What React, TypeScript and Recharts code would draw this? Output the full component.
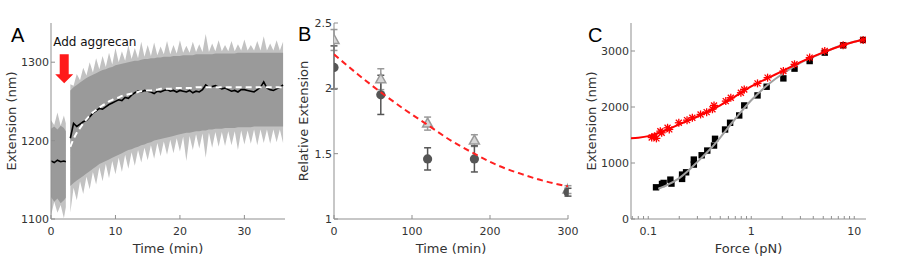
import React from 'react';
import { ComposedChart, XAxis, YAxis, Area, Line, Scatter, ErrorBar, ReferenceDot, Label } from 'recharts';

// ---------- Panel A data (time in min, extension in nm) ----------
const timeA = [
  0, 0.5, 1, 1.5, 2, 2.3, 2.65,
  3, 3.5, 4, 4.5, 5, 5.5, 6, 6.5, 7, 7.5,
  8, 8.5, 9, 9.5, 10, 10.5, 11, 11.5, 12, 12.5,
  13, 13.5, 14, 14.5, 15, 15.5, 16, 16.5, 17, 17.5,
  18, 18.5, 19, 19.5, 20, 20.5, 21, 21.5, 22, 22.5,
  23, 23.5, 24, 24.5, 25, 25.5, 26, 26.5, 27, 27.5,
  28, 28.5, 29, 29.5, 30, 30.5, 31, 31.5, 32, 32.5,
  33, 33.5, 34, 34.5, 35, 35.5, 36,
];
const spikeHiA = [
  1226, 1220, 1236, 1219, 1232, 1222, null,
  1272, 1270, 1285, 1277, 1293, 1283, 1300, 1287, 1305, 1291,
  1308, 1294, 1312, 1297, 1318, 1300, 1314, 1302, 1322, 1304,
  1318, 1305, 1326, 1307, 1322, 1308, 1325, 1309, 1320, 1310,
  1327, 1310, 1322, 1311, 1328, 1312, 1321, 1312, 1326, 1313,
  1323, 1313, 1336, 1313, 1324, 1314, 1328, 1314, 1322, 1314,
  1327, 1314, 1323, 1315, 1329, 1315, 1322, 1315, 1327, 1315,
  1333, 1315, 1324, 1315, 1328, 1315, 1326,
];
const coreHiA = [
  1215, 1218, 1214, 1219, 1216, 1212, null,
  1264, 1268, 1271, 1274, 1277, 1280, 1282, 1284, 1286, 1288,
  1290, 1291, 1293, 1294, 1296, 1297, 1298, 1299, 1300, 1301,
  1302, 1302, 1303, 1304, 1304, 1305, 1305, 1306, 1306, 1307,
  1307, 1307, 1308, 1308, 1308, 1309, 1309, 1309, 1309, 1310,
  1310, 1310, 1310, 1310, 1310, 1311, 1311, 1311, 1311, 1311,
  1311, 1311, 1312, 1312, 1312, 1312, 1312, 1312, 1312, 1312,
  1312, 1312, 1312, 1312, 1312, 1312, 1312,
];
const coreLoA = [
  1128, 1122, 1126, 1120, 1124, 1127, null,
  1142, 1146, 1149, 1152, 1155, 1158, 1161, 1164, 1167, 1170,
  1172, 1174, 1176, 1178, 1180, 1182, 1184, 1186, 1188, 1189,
  1191, 1192, 1194, 1195, 1197, 1198, 1200, 1201, 1202, 1203,
  1204, 1205, 1206, 1207, 1208, 1209, 1210, 1210, 1211, 1212,
  1212, 1213, 1213, 1214, 1214, 1215, 1215, 1215, 1216, 1216,
  1216, 1216, 1217, 1217, 1217, 1217, 1217, 1218, 1218, 1218,
  1218, 1218, 1218, 1218, 1218, 1218, 1218,
];
const spikeLoA = [
  1104, 1122, 1108, 1118, 1101, 1115, null,
  1108, 1140, 1124, 1148, 1132, 1154, 1138, 1160, 1144, 1166,
  1148, 1170, 1152, 1174, 1157, 1178, 1160, 1182, 1164, 1185,
  1168, 1188, 1172, 1191, 1175, 1194, 1177, 1197, 1180, 1199,
  1182, 1201, 1184, 1203, 1186, 1205, 1174, 1206, 1188, 1208,
  1190, 1209, 1178, 1210, 1191, 1211, 1192, 1211, 1193, 1212,
  1194, 1212, 1188, 1213, 1195, 1213, 1196, 1214, 1194, 1214,
  1197, 1214, 1196, 1214, 1198, 1214, 1197,
];
const smoothA = [
  1174, 1172, 1175, 1173, 1174, 1173, null,
  1203, 1222, 1218, 1221, 1224, 1226, 1230, 1235, 1238, 1241,
  1240, 1243, 1246, 1248, 1250, 1252, 1251, 1255, 1254, 1258,
  1261, 1263, 1262, 1264, 1263, 1262, 1260, 1263, 1262, 1264,
  1265, 1263, 1264, 1262, 1264, 1263, 1262, 1264, 1261, 1263,
  1262, 1265, 1271, 1268, 1269, 1270, 1268, 1266, 1267, 1265,
  1263, 1264, 1262, 1265, 1265, 1264, 1263, 1262, 1265, 1268,
  1275, 1267, 1265, 1264, 1266, 1268, 1271,
];
const fitA = [
  null, null, null, null, null, null, null,
  1192, 1202, 1210, 1216, 1222, 1227, 1232, 1236, 1239, 1242,
  1245, 1247, 1250, 1252, 1254, 1255, 1257, 1258, 1259, 1260,
  1261, 1262, 1263, 1263, 1264, 1264, 1265, 1265, 1266, 1266,
  1266, 1266, 1267, 1267, 1267, 1267, 1267, 1267, 1267, 1268,
  1268, 1268, 1268, 1268, 1268, 1268, 1268, 1268, 1268, 1268,
  1268, 1268, 1268, 1268, 1268, 1268, 1268, 1268, 1268, 1268,
  1268, 1268, 1268, 1268, 1268, 1268, 1268,
];
const ticksAX = [0, 10, 20, 30];
const ticksAY = [1100, 1200, 1300];

// ---------- Panel B data ----------
const timeB = [0, 60, 120, 180, 300];
const circleB = [2.16, 1.95, 1.46, 1.46, 1.205];
const circleErrB = [0.165, 0.15, 0.085, 0.1, 0.03];
const triB = [2.37, 2.07, 1.73, 1.6, 1.225];
const triErrB = [0.08, 0.08, 0.05, 0.045, 0.03];
const fitTimeB = [0, 30, 60, 90, 120, 150, 180, 210, 240, 270, 300];
const fitB = [2.26, 2.11, 1.97, 1.84, 1.72, 1.6, 1.5, 1.41, 1.345, 1.29, 1.25];
const ticksBX = [0, 100, 200, 300];
const ticksBY = [1, 1.5, 2, 2.5];

// ---------- Panel C data (force pN, extension nm) ----------
const forceRed = [0.108, 0.115, 0.12, 0.131, 0.135, 0.154, 0.16, 0.198, 0.238, 0.268, 0.322, 0.369, 0.42, 0.435, 0.566, 0.633, 0.793, 0.855, 1.15, 1.44, 2.05, 2.63, 3.69, 5.17, 7.8, 12.2];
const extRed = [1455, 1478, 1440, 1568, 1540, 1629, 1600, 1718, 1765, 1808, 1867, 1908, 1960, 2028, 2105, 2166, 2255, 2314, 2422, 2524, 2642, 2762, 2882, 3000, 3102, 3197];
const forceBlack = [0.119, 0.136, 0.141, 0.164, 0.168, 0.213, 0.213, 0.233, 0.277, 0.277, 0.33, 0.374, 0.435, 0.445, 0.557, 0.623, 0.764, 0.855, 1.15, 1.41, 2.05, 2.63, 3.69, 5.17, 7.8, 12.2];
const extBlack = [566, 626, 644, 703, 632, 793, 716, 834, 1061, 972, 1138, 1222, 1312, 1432, 1598, 1718, 1849, 2028, 2207, 2362, 2511, 2685, 2821, 2971, 3102, 3197];
// fitted curves, sampled on a shared force grid (null where a curve is not drawn)
const fitForceC = [0.068, 0.08, 0.1, 0.125, 0.15, 0.2, 0.25, 0.3, 0.4, 0.5, 0.7, 1, 1.5, 2, 3, 5, 7, 10, 12.2, 13];
const fitRedC = [1440, 1452, 1480, 1535, 1590, 1690, 1765, 1830, 1940, 2030, 2190, 2370, 2530, 2640, 2800, 2975, 3075, 3165, 3205, 3225];
const fitGrayC = [null, null, null, 540, 600, 730, 880, 1020, 1250, 1455, 1790, 2120, 2420, 2590, 2790, 2970, 3080, 3165, 3200, null];
const ticksCX = [0.07, 0.08, 0.09, 0.1, 0.2, 0.3, 0.4, 0.5, 0.6, 0.7, 0.8, 0.9, 1, 2, 3, 4, 5, 6, 7, 8, 9, 10];
const majorCX = [0.1, 1, 10];
const ticksCY = [0, 1000, 2000, 3000];

// ---------- tables ----------
const rowsA = timeA.map((t, i) => ({
  t,
  spike: spikeHiA[i] == null ? null : [spikeLoA[i], spikeHiA[i]],
  core: coreHiA[i] == null ? null : [coreLoA[i], coreHiA[i]],
  smooth: smoothA[i],
  fit: fitA[i],
}));
const circlesB = timeB.map((t, i) => ({ t, v: circleB[i], e: circleErrB[i] }));
const trianglesB = timeB.map((t, i) => ({ t, v: triB[i], e: triErrB[i] }));
const fitRowsB = fitTimeB.map((t, i) => ({ t, fitv: fitB[i] }));
const redPts = forceRed.map((f, i) => ({ f, z: extRed[i] }));
const blackPts = forceBlack.map((f, i) => ({ f, z: extBlack[i] }));
const fitRowsC = fitForceC.map((f, i) => ({ f, redz: fitRedC[i], grayz: fitGrayC[i] }));

const FONT = '"DejaVu Sans", Verdana, sans-serif';
const AXIS = '#8f8f8f';
const TEXT = '#333333';
const tickStyle = { fill: TEXT, fontSize: 11, fontFamily: FONT };
const labelStyle = { fill: TEXT, fontSize: 13, fontFamily: FONT, textAnchor: 'middle' as const };

const ArrowShape = (p: any) => {
  const cx = p.cx, cy = p.cy;
  return (
    <g>
      <text x={cx - 11} y={cy - 8} fontSize={12} fontFamily={FONT} fill="#111">Add aggrecan</text>
      <polygon
        points={`${cx - 4.5},${cy} ${cx + 4.5},${cy} ${cx + 4.5},${cy + 20} ${cx + 9},${cy + 20} ${cx},${cy + 29} ${cx - 9},${cy + 20} ${cx - 4.5},${cy + 20}`}
        fill="#ff1a1a"
      />
    </g>
  );
};
const CircleShape = (p: any) => <circle cx={p.cx} cy={p.cy} r={4.6} fill="#555555" />;
const TriShape = (p: any) => (
  <polygon
    points={`${p.cx},${p.cy - 5.5} ${p.cx - 5},${p.cy + 3.5} ${p.cx + 5},${p.cy + 3.5}`}
    fill="#d6d6d6"
    stroke="#9a9a9a"
    strokeWidth={1.5}
  />
);
const SquareShape = (p: any) => <rect x={p.cx - 3.2} y={p.cy - 3.2} width={6.4} height={6.4} fill="#000" />;
const StarShape = (p: any) => {
  const { cx, cy } = p;
  return (
    <g stroke="#ff0000" strokeWidth={1.3}>
      <line x1={cx - 4} y1={cy} x2={cx + 4} y2={cy} />
      <line x1={cx} y1={cy - 4} x2={cx} y2={cy + 4} />
      <line x1={cx - 3} y1={cy - 3} x2={cx + 3} y2={cy + 3} />
      <line x1={cx - 3} y1={cy + 3} x2={cx + 3} y2={cy - 3} />
    </g>
  );
};

const panelLetter = (ch: string, left: number, top: number) => (
  <div style={{ position: 'absolute', left, top, fontSize: 20, lineHeight: '20px', fontFamily: '"Liberation Sans", Arial, sans-serif', color: '#000' }}>{ch}</div>
);

export default function App() {
  return (
    <div style={{ position: 'absolute', left: 0, top: 0, width: 900, height: 256, background: '#fff', fontFamily: FONT }}>
      {/* Panel A */}
      <div style={{ position: 'absolute', left: 0, top: 0 }}>
        <ComposedChart width={290} height={256} data={rowsA} margin={{ top: 23, right: 5, bottom: 0, left: 0 }}>
          <XAxis xAxisId="b" dataKey="t" type="number" domain={[0, 36.3]} ticks={ticksAX} allowDataOverflow height={37}
            tickSize={-4} tickMargin={12} stroke={AXIS} tick={tickStyle}>
            <Label value="Time (min)" position="insideBottom" offset={3} style={labelStyle} />
          </XAxis>
          <XAxis xAxisId="t" orientation="top" dataKey="t" type="number" domain={[0, 36.3]} ticks={ticksAX} allowDataOverflow height={0}
            tickSize={-4} tick={false} stroke={AXIS} />
          <YAxis yAxisId="l" type="number" domain={[1100, 1350]} ticks={ticksAY} allowDataOverflow width={51}
            tickSize={-4} tickMargin={6} stroke={AXIS} tick={tickStyle}>
            <Label value="Extension (nm)" position="insideLeft" angle={-90} offset={11} style={labelStyle} />
          </YAxis>
          <YAxis yAxisId="r" orientation="right" type="number" domain={[1100, 1350]} ticks={ticksAY} allowDataOverflow width={0}
            tickSize={-4} tick={false} stroke={AXIS} />
          <Area xAxisId="b" yAxisId="l" dataKey="spike" type="linear" stroke="none" fill="#c2c2c2" fillOpacity={1} isAnimationActive={false} activeDot={false} />
          <Area xAxisId="b" yAxisId="l" dataKey="core" type="linear" stroke="none" fill="#9a9a9a" fillOpacity={1} isAnimationActive={false} activeDot={false} />
          <Line xAxisId="b" yAxisId="l" dataKey="smooth" type="linear" stroke="#000" strokeWidth={1.6} dot={false} activeDot={false} isAnimationActive={false} />
          <Line xAxisId="b" yAxisId="l" dataKey="fit" type="monotone" stroke="#fff" strokeWidth={2} strokeDasharray="6 4" dot={false} activeDot={false} isAnimationActive={false} />
          <ReferenceDot xAxisId="b" yAxisId="l" x={2.05} y={1310} r={0} shape={ArrowShape} />
        </ComposedChart>
      </div>

      {/* Panel B */}
      <div style={{ position: 'absolute', left: 290, top: 0 }}>
        <ComposedChart width={290} height={256} margin={{ top: 23, right: 12, bottom: 0, left: 0 }}>
          <XAxis xAxisId="b" dataKey="t" type="number" domain={[0, 300]} ticks={ticksBX} allowDataOverflow height={37}
            tickSize={-4} tickMargin={12} stroke={AXIS} tick={tickStyle}>
            <Label value="Time (min)" position="insideBottom" offset={3} style={labelStyle} />
          </XAxis>
          <XAxis xAxisId="t" orientation="top" dataKey="t" type="number" domain={[0, 300]} ticks={ticksBX} allowDataOverflow height={0}
            tickSize={-4} tick={false} stroke={AXIS} />
          <YAxis yAxisId="l" dataKey="v" type="number" domain={[1, 2.5]} ticks={ticksBY} allowDataOverflow width={44}
            tickSize={-4} tickMargin={6} stroke={AXIS} tick={tickStyle}>
            <Label value="Relative Extension" position="insideLeft" angle={-90} offset={13} style={labelStyle} />
          </YAxis>
          <YAxis yAxisId="r" orientation="right" dataKey="v" type="number" domain={[1, 2.5]} ticks={ticksBY} allowDataOverflow width={0}
            tickSize={-4} tick={false} stroke={AXIS} />
          <Scatter xAxisId="b" yAxisId="l" data={trianglesB} dataKey="v" shape={TriShape} isAnimationActive={false}>
            <ErrorBar dataKey="e" direction="y" width={3.5} stroke="#9a9a9a" strokeWidth={1.5} isAnimationActive={false} />
          </Scatter>
          <Scatter xAxisId="b" yAxisId="l" data={circlesB} dataKey="v" shape={CircleShape} isAnimationActive={false}>
            <ErrorBar dataKey="e" direction="y" width={3.5} stroke="#555555" strokeWidth={1.5} isAnimationActive={false} />
          </Scatter>
          <Line xAxisId="b" yAxisId="l" data={fitRowsB} dataKey="fitv" type="monotone" stroke="#ff2020" strokeWidth={2} strokeDasharray="6 4"
            dot={false} activeDot={false} isAnimationActive={false} {...({ zIndex: 700 } as any)} />
        </ComposedChart>
      </div>

      {/* Panel C */}
      <div style={{ position: 'absolute', left: 580, top: 0 }}>
        <ComposedChart width={320} height={256} data={fitRowsC} margin={{ top: 23, right: 34, bottom: 0, left: 0 }}>
          <XAxis xAxisId="b" dataKey="f" type="number" scale="log" domain={[0.068, 13]} ticks={ticksCX} allowDataOverflow height={37}
            tickSize={-3} tickMargin={11} stroke={AXIS} tick={tickStyle} interval={0}
            tickFormatter={(v: number) => (majorCX.includes(v) ? String(v) : '')}>
            <Label value="Force (pN)" position="insideBottom" offset={3} style={labelStyle} />
          </XAxis>
          <XAxis xAxisId="t" orientation="top" dataKey="f" type="number" scale="log" domain={[0.068, 13]} ticks={ticksCX} allowDataOverflow height={0}
            tickSize={-3} tick={false} stroke={AXIS} interval={0} />
          <YAxis yAxisId="l" dataKey="z" type="number" domain={[0, 3500]} ticks={ticksCY} allowDataOverflow width={51}
            tickSize={-4} tickMargin={6} stroke={AXIS} tick={tickStyle}>
            <Label value="Extension (nm)" position="insideLeft" angle={-90} offset={11} style={labelStyle} />
          </YAxis>
          <YAxis yAxisId="r" orientation="right" dataKey="z" type="number" domain={[0, 3500]} ticks={ticksCY} allowDataOverflow width={0}
            tickSize={-4} tick={false} stroke={AXIS} />
          <Scatter xAxisId="b" yAxisId="l" data={blackPts} dataKey="z" shape={SquareShape} isAnimationActive={false} {...({ zIndex: 600 } as any)} />
          <Line xAxisId="b" yAxisId="l" dataKey="grayz" type="monotone" stroke="#a0a0a0" strokeWidth={2}
            dot={false} activeDot={false} isAnimationActive={false} {...({ zIndex: 650 } as any)} />
          <Scatter xAxisId="b" yAxisId="l" data={redPts} dataKey="z" shape={StarShape} isAnimationActive={false} {...({ zIndex: 700 } as any)} />
          <Line xAxisId="b" yAxisId="l" dataKey="redz" type="monotone" stroke="#ff0000" strokeWidth={2}
            dot={false} activeDot={false} isAnimationActive={false} {...({ zIndex: 750 } as any)} />
        </ComposedChart>
      </div>

      {panelLetter('A', 11, 25)}
      {panelLetter('B', 298, 24)}
      {panelLetter('C', 588, 25)}
    </div>
  );
}
